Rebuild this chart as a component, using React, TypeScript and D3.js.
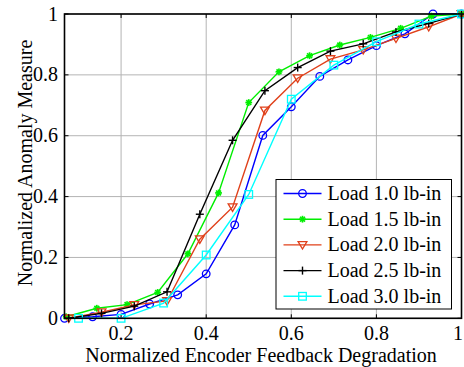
import React from 'react';
import * as d3 from 'd3';

// ---------- data ----------
const xLoad10 = [0.067, 0.133, 0.2, 0.267, 0.333, 0.4, 0.467, 0.533, 0.6, 0.667, 0.733, 0.8, 0.867, 0.933, 1.0];
const yLoad10 = [0.0, 0.005, 0.013, 0.047, 0.077, 0.146, 0.307, 0.601, 0.695, 0.795, 0.849, 0.896, 0.935, 1.0, 1.0];

const xLoad15 = [0.071, 0.143, 0.214, 0.286, 0.357, 0.429, 0.5, 0.571, 0.643, 0.714, 0.786, 0.857, 0.929, 1.0];
const yLoad15 = [0.005, 0.033, 0.045, 0.085, 0.212, 0.412, 0.709, 0.81, 0.863, 0.898, 0.923, 0.953, 0.993, 1.0];

const xLoad20 = [0.077, 0.154, 0.231, 0.308, 0.385, 0.462, 0.538, 0.615, 0.692, 0.769, 0.846, 0.923, 1.0];
const yLoad20 = [0.0, 0.02, 0.044, 0.057, 0.26, 0.365, 0.683, 0.789, 0.852, 0.882, 0.92, 0.958, 1.0];

const xLoad25 = [0.077, 0.154, 0.231, 0.308, 0.385, 0.462, 0.538, 0.615, 0.692, 0.769, 0.846, 0.923, 1.0];
const yLoad25 = [0.0, 0.016, 0.04, 0.087, 0.342, 0.585, 0.748, 0.824, 0.878, 0.902, 0.941, 0.969, 1.0];

const xLoad30 = [0.1, 0.2, 0.3, 0.4, 0.5, 0.6, 0.7, 0.8, 0.9, 1.0];
const yLoad30 = [0.0, 0.0, 0.05, 0.208, 0.407, 0.72, 0.832, 0.909, 0.967, 1.0];

const seriesNames = ['Load 1.0 lb-in', 'Load 1.5 lb-in', 'Load 2.0 lb-in', 'Load 2.5 lb-in', 'Load 3.0 lb-in'];
const xTicks = [0.2, 0.4, 0.6, 0.8, 1];
const xTickLabels = ['0.2', '0.4', '0.6', '0.8', '1'];
const yTicks = [0, 0.2, 0.4, 0.6, 0.8, 1];
const yTickLabels = ['0', '0.2', '0.4', '0.6', '0.8', '1'];
const xTitle = 'Normalized Encoder Feedback Degradation';
const yTitle = 'Normalized Anomaly Measure';

// ---------- layout ----------
const W = 464, H = 367;
const L = 64.5, R = 461.5, T = 14, B = 318.3;
const FONT = "'Liberation Serif', 'DejaVu Serif', serif";

const series = [
  { name: seriesNames[0], xs: xLoad10, ys: yLoad10, color: '#0000ff', marker: 'circle' },
  { name: seriesNames[1], xs: xLoad15, ys: yLoad15, color: '#00ee00', marker: 'star' },
  { name: seriesNames[2], xs: xLoad20, ys: yLoad20, color: '#e0401a', marker: 'tri' },
  { name: seriesNames[3], xs: xLoad25, ys: yLoad25, color: '#000000', marker: 'plus' },
  { name: seriesNames[4], xs: xLoad30, ys: yLoad30, color: '#00ffff', marker: 'square' },
];

function Marker({ type, x, y, color, scale = 1 }: { type: string; x: number; y: number; color: string; scale?: number }) {
  const sw = 1.3;
  if (type === 'circle') {
    const r = 3.8 * scale;
    return <circle cx={x} cy={y} r={r} fill="none" stroke={color} strokeWidth={sw} />;
  }
  if (type === 'square') {
    const s = 3.8 * scale;
    return <rect x={x - s} y={y - s} width={2 * s} height={2 * s} fill="none" stroke={color} strokeWidth={sw} />;
  }
  if (type === 'tri') {
    const s = 4.4 * scale;
    const p = `${x - s},${y - s * 0.75} ${x + s},${y - s * 0.75} ${x},${y + s * 0.95}`;
    return <polygon points={p} fill="none" stroke={color} strokeWidth={sw} />;
  }
  if (type === 'plus') {
    const s = 4 * scale;
    return (
      <g stroke={color} strokeWidth={1.4}>
        <line x1={x - s} y1={y} x2={x + s} y2={y} />
        <line x1={x} y1={y - s} x2={x} y2={y + s} />
      </g>
    );
  }
  // star (asterisk)
  const s = 3.4 * scale;
  const d = s * 0.72;
  return (
    <g stroke={color} strokeWidth={1.7}>
      <line x1={x - s} y1={y} x2={x + s} y2={y} />
      <line x1={x} y1={y - s} x2={x} y2={y + s} />
      <line x1={x - d} y1={y - d} x2={x + d} y2={y + d} />
      <line x1={x - d} y1={y + d} x2={x + d} y2={y - d} />
    </g>
  );
}

export default function App() {
  const xScale = d3.scaleLinear().domain([0.067, 1]).range([L, R]);
  const yScale = d3.scaleLinear().domain([0, 1]).range([B, T]);
  const line = d3.line<[number, number]>().x(d => xScale(d[0])).y(d => yScale(d[1]));

  const legX = 276, legY = 179.5, legW = 175.5, legH = 129.5;
  const legRowY = (i: number) => 193.5 + i * 25.7;
  const txt = { fontFamily: FONT, fontSize: '20px' } as React.CSSProperties;

  return (
    <svg width={W} height={H} style={{ position: 'absolute', left: 0, top: 0, background: '#fff' }}>
      <rect x={0} y={0} width={W} height={H} fill="#fff" />
      {/* grid */}
      <g stroke="#b4b4b4" strokeWidth={1}>
        {xTicks.map((t, i) => (
          <line key={'gx' + i} x1={xScale(t)} x2={xScale(t)} y1={T} y2={B} />
        ))}
        {yTicks.map((t, i) => (
          <line key={'gy' + i} x1={L} x2={R} y1={yScale(t)} y2={yScale(t)} />
        ))}
      </g>
      {/* ticks inward */}
      <g stroke="#000" strokeWidth={1}>
        {xTicks.map((t, i) => (
          <g key={'tx' + i}>
            <line x1={xScale(t)} x2={xScale(t)} y1={B} y2={B - 4} />
            <line x1={xScale(t)} x2={xScale(t)} y1={T} y2={T + 4} />
          </g>
        ))}
        {yTicks.map((t, i) => (
          <g key={'ty' + i}>
            <line x1={L} x2={L + 4} y1={yScale(t)} y2={yScale(t)} />
            <line x1={R} x2={R - 4} y1={yScale(t)} y2={yScale(t)} />
          </g>
        ))}
      </g>
      {/* series */}
      {series.map((s, si) => {
        const pts = s.xs.map((x, i) => [x, s.ys[i]] as [number, number]);
        return (
          <g key={'s' + si}>
            <path d={line(pts) || ''} fill="none" stroke={s.color} strokeWidth={1.4} />
            {pts.map((p, i) => (
              <Marker key={i} type={s.marker} x={xScale(p[0])} y={yScale(p[1])} color={s.color} />
            ))}
          </g>
        );
      })}
      {/* axes box */}
      <rect x={L} y={T} width={R - L} height={B - T} fill="none" stroke="#000" strokeWidth={1.6} />
      {/* tick labels */}
      {xTicks.map((t, i) => (
        <text key={'xl' + i} x={Math.min(xScale(t), 458)} y={340} textAnchor="middle" style={txt} fill="#000">{xTickLabels[i]}</text>
      ))}
      {yTicks.map((t, i) => (
        <text key={'yl' + i} x={58} y={yScale(t) + 6.5} textAnchor="end" style={txt} fill="#000">{yTickLabels[i]}</text>
      ))}
      {/* titles */}
      <text x={(L + R) / 2 - 2} y={362} textAnchor="middle" style={txt} fill="#000">{xTitle}</text>
      <text transform={`translate(32,163) rotate(-90)`} textAnchor="middle" style={txt} fill="#000">{yTitle}</text>
      {/* legend */}
      <rect x={legX} y={legY} width={legW} height={legH} fill="#fff" stroke="#000" strokeWidth={1} />
      {series.map((s, i) => (
        <g key={'lg' + i}>
          <line x1={283.5} x2={321.5} y1={legRowY(i)} y2={legRowY(i)} stroke={s.color} strokeWidth={1.4} />
          <Marker type={s.marker} x={302.5} y={legRowY(i)} color={s.color} />
          <text x={327.5} y={legRowY(i) + 6.5} style={txt} fill="#000">{s.name}</text>
        </g>
      ))}
    </svg>
  );
}
